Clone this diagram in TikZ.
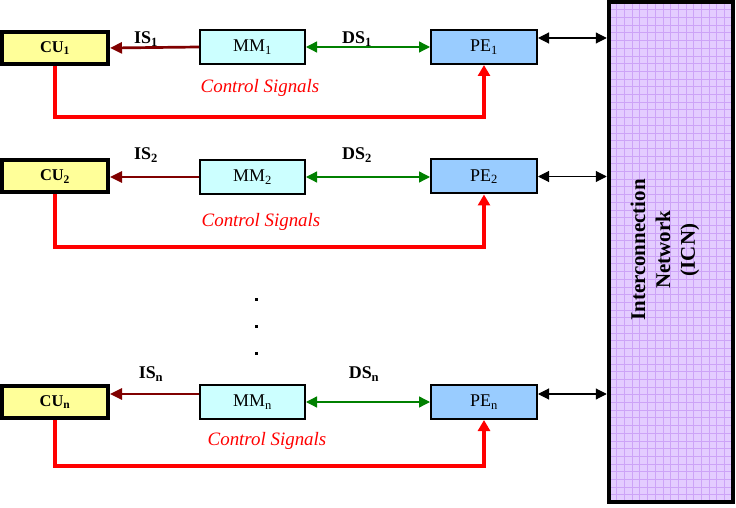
\documentclass[tikz,border=0pt]{standalone}
\usepackage{fontspec}
\setmainfont{Liberation Serif}
\usetikzlibrary{arrows.meta}
\definecolor{cuyellow}{HTML}{FFFF99}
\definecolor{mmcyan}{HTML}{CCFFFF}
\definecolor{peblue}{HTML}{99CCFF}
\definecolor{isred}{HTML}{800000}
\definecolor{dsgreen}{HTML}{008000}
\definecolor{icnfill}{HTML}{E4CCFF}
\definecolor{icngrid}{HTML}{CDA3F7}
\tikzset{
  cubox/.style={draw, line width=4bp, fill=cuyellow, minimum width=106bp, minimum height=32bp, inner sep=0pt,
    font=\bfseries\fontsize{16.5}{18}\selectfont},
  mmbox/.style={draw, line width=2bp, fill=mmcyan, minimum width=105bp, minimum height=34bp, inner sep=0pt,
    font=\fontsize{18}{20}\selectfont},
  pebox/.style={draw, line width=2bp, fill=peblue, minimum width=106bp, minimum height=34bp, inner sep=0pt,
    font=\fontsize{18}{20}\selectfont},
  isarrow/.style={draw=isred, line width=2.7bp, -{Triangle[length=12bp,width=11bp]}},
  dsarrow/.style={draw=dsgreen, line width=1.3bp, {Triangle[length=11bp,width=11bp]}-{Triangle[length=11bp,width=11bp]}},
  icnarrow/.style={draw=black, line width=1.1bp, {Triangle[length=11bp,width=11bp]}-{Triangle[length=11bp,width=11bp]}},
  ctrlarrow/.style={draw=red, line width=4bp, -{Triangle[length=11bp,width=12bp]}},
  siglabel/.style={font=\bfseries\fontsize{18}{20}\selectfont, inner sep=0pt},
  ctrllabel/.style={text=red, font=\itshape\fontsize{19}{21}\selectfont, inner sep=0pt},
  dotnode/.style={fill=black, minimum size=3bp, inner sep=0pt},
}
\begin{document}
\begin{tikzpicture}[x=1bp,y=-1bp]
\useasboundingbox (0,0) rectangle (736,508);

% Interconnection network
\node[draw, line width=4.5bp, fill=icnfill, minimum width=124bp, minimum height=500bp, inner sep=0pt,
  path picture={
    \foreach \i in {1,...,17}{
      \draw[icngrid, line width=0.7bp] ([xshift=\i*7.7bp]path picture bounding box.north west) -- ([xshift=\i*7.7bp]path picture bounding box.south west);
    }
    \foreach \j in {1,...,66}{
      \draw[icngrid, line width=0.7bp] ([yshift=-\j*7.7bp]path picture bounding box.north west) -- ([yshift=-\j*7.7bp]path picture bounding box.north east);
    }
  }] (icn) at (671,252) {};
\node[rotate=90, align=center, font=\bfseries\fontsize{21}{25}\selectfont] (icnlabel) at (665,250)
  {Interconnection\\Network\\(ICN)};

% Row 1
\node[cubox] (cu1) at (55,48) {CU\textsubscript{1}};
\node[mmbox] (mm1) at (252.5,47) {MM\textsubscript{1}};
\node[pebox] (pe1) at (484,47) {PE\textsubscript{1}};
\draw[isarrow] (mm1.west) -- (cu1.east);
\draw[dsarrow] (mm1.east) -- (pe1.west);
\draw[icnarrow] ([yshift=9bp]pe1.east) -- ([yshift=9bp]pe1.east -| icn.west);
\draw[ctrlarrow] (cu1.south) |- (55,117) -| (pe1.south);
\node[siglabel] (is1) at (146,39) {IS\textsubscript{1}};
\node[siglabel] (ds1) at (357,39) {DS\textsubscript{1}};
\node[ctrllabel] (cs1) at (260,88) {Control Signals};

% Row 2
\node[cubox] (cu2) at (55,176.5) {CU\textsubscript{2}};
\node[mmbox] (mm2) at (252.5,177) {MM\textsubscript{2}};
\node[pebox] (pe2) at (484,176.5) {PE\textsubscript{2}};
\draw[isarrow] (mm2.west) -- (mm2.west -| cu2.east);
\draw[dsarrow] (mm2.east) -- (mm2.east -| pe2.west);
\draw[icnarrow] (pe2.east) -- (pe2.east -| icn.west);
\draw[ctrlarrow] (cu2.south) |- (55,247) -| (pe2.south);
\node[siglabel] (is2) at (146,155) {IS\textsubscript{2}};
\node[siglabel] (ds2) at (357,155) {DS\textsubscript{2}};
\node[ctrllabel] (cs2) at (261,222) {Control Signals};

% dots
\node[dotnode] (d1) at (256,299) {};
\node[dotnode] (d2) at (256,326) {};
\node[dotnode] (d3) at (256,353) {};

% Row n
\node[cubox] (cun) at (55,402) {CU\textsubscript{n}};
\node[mmbox] (mmn) at (252.5,402) {MM\textsubscript{n}};
\node[pebox] (pen) at (484,402) {PE\textsubscript{n}};
\draw[isarrow] ([yshift=8bp]mmn.west) -- ([yshift=8bp]cun.east);
\draw[dsarrow] (mmn.east) -- (pen.west);
\draw[icnarrow] ([yshift=8bp]pen.east) -- ([yshift=8bp]pen.east -| icn.west);
\draw[ctrlarrow] (cun.south) |- (55,466) -| (pen.south);
\node[siglabel] (isn) at (151,374) {IS\textsubscript{n}};
\node[siglabel] (dsn) at (364,374) {DS\textsubscript{n}};
\node[ctrllabel] (csn) at (267,441) {Control Signals};
\end{tikzpicture}
\end{document}
